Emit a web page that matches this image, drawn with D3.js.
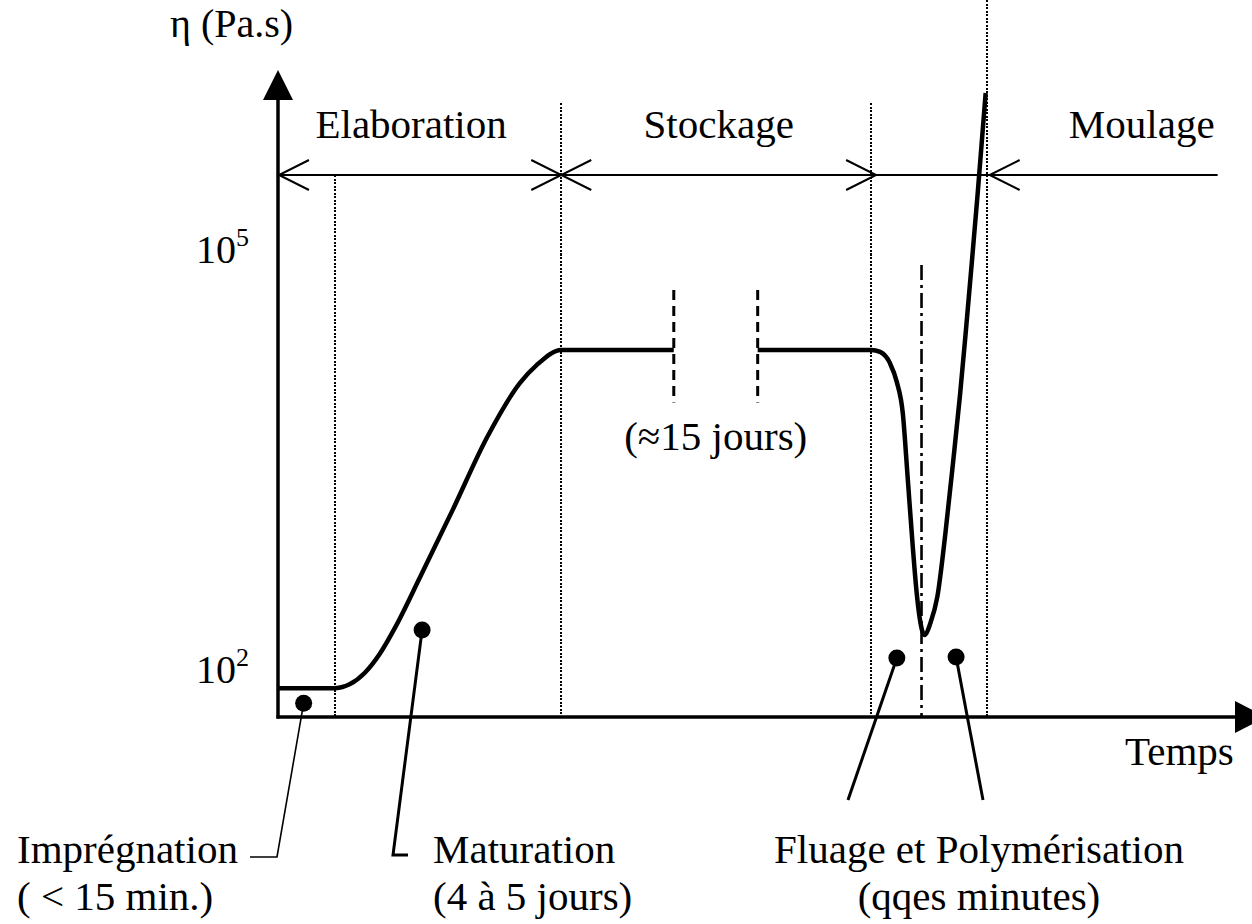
<!DOCTYPE html>
<html>
<head>
<meta charset="utf-8">
<script src="https://cdn.jsdelivr.net/npm/d3@7"></script>
<style>
  body { margin: 0; background: #fff; }
  svg { display: block; }
  text { font-family: "Liberation Serif", "Times New Roman", serif; fill: #000; }
</style>
</head>
<body>
<svg id="chart" width="1252" height="924"></svg>
<script>
// Viscosity of a prepreg through its life cycle (time in arbitrary units, η in Pa.s)

// impregnation + maturation, up to the start of storage
const elaborationTime = [0, 5.8, 7.3, 8.8, 10.3, 11.9, 14.4, 17.7, 21.2, 24.5, 26.2, 28.7, 40.1];
const elaborationEta  = [73, 73, 78, 94, 128, 200, 454, 1370, 4540, 11000, 14800, 19000, 19000];

// end of storage, flow and cure during moulding
const mouldingTime = [48.6, 60.1, 61.0, 62.0, 62.7, 63.3, 63.8, 64.3, 64.7, 65.0, 65.5,
                      66.1, 66.8, 67.6, 68.4, 69.1, 69.7, 70.3, 70.9, 71.7];
const mouldingEta  = [19000, 19000, 18400, 15300, 11200, 6740, 2310, 769, 355, 235, 175,
                      213, 327, 906, 3010, 9060, 26400, 80700, 255000, 1300000];

// y axis tick values
const yTicks = [1e2, 1e5];

// process phases along the time axis
const phaseNames = ["Elaboration", "Stockage", "Moulage"];
const phaseStart = [0.1, 28.7, 72.1];
const phaseEnd   = [28.7, 60.6, 95.2];

// step boundaries (dotted guides)
const stepBounds = [5.8, 28.7, 60.1, 71.8];
// interrupted storage period
const storageBreak = [40.1, 48.6];
// time of the viscosity minimum
const minimumTime = 65.2;

// markers pointing to each step
const markerTime = [2.6, 14.6, 62.7, 68.7];
const markerEta  = [57, 190, 120, 122];

const svg = d3.select("#chart");
const x = d3.scaleLinear().domain([0, 100]).range([278, 1265]);
const y = d3.scaleLog().domain([1e2, 1e5]).range([669, 249]);

const axisY = 717;          // time axis
const phaseY = 175;         // phase arrows
const fontSize = 41;

// ---- dotted step guides
const guideTop = [phaseY, 103, 103, 0];
svg.append("g").attr("shape-rendering", "crispEdges")
  .selectAll("line").data(stepBounds).join("line")
  .attr("x1", d => Math.round(x(d))).attr("x2", d => Math.round(x(d)))
  .attr("y1", (d, i) => guideTop[i]).attr("y2", axisY)
  .attr("stroke", "#000").attr("stroke-width", 2.5)
  .attr("stroke-dasharray", "2 1.5");

// ---- dash-dot line at the viscosity minimum
svg.append("line")
  .attr("x1", x(minimumTime)).attr("x2", x(minimumTime))
  .attr("y1", y(77000)).attr("y2", axisY)
  .attr("stroke", "#000").attr("stroke-width", 2.6)
  .attr("stroke-dasharray", "15 5 3 5");

// ---- storage break (dashed)
svg.append("g").selectAll("line").data(storageBreak).join("line")
  .attr("x1", d => x(d)).attr("x2", d => x(d))
  .attr("y1", y(51000)).attr("y2", y(8000))
  .attr("stroke", "#000").attr("stroke-width", 3)
  .attr("stroke-dasharray", "10 6");

// ---- phase arrows
const phaseG = svg.append("g").attr("stroke", "#000").attr("fill", "none").attr("stroke-width", 2);
phaseG.append("line")
  .attr("x1", x(phaseStart[0])).attr("x2", x(phaseEnd[2]))
  .attr("y1", phaseY).attr("y2", phaseY);
function arrowHead(tipX, dir) {
  // dir = -1 points left, +1 points right
  return `M${tipX - dir * 30},${phaseY - 15}L${tipX},${phaseY}L${tipX - dir * 30},${phaseY + 15}`;
}
phaseNames.forEach((name, i) => {
  phaseG.append("path").attr("d", arrowHead(x(phaseStart[i]), -1));
  if (i < 2) phaseG.append("path").attr("d", arrowHead(x(phaseEnd[i]), 1));
});
svg.append("g").selectAll("text").data(phaseNames).join("text")
  .attr("x", (d, i) => i < 2 ? (x(phaseStart[i]) + x(phaseEnd[i])) / 2 : x(phaseEnd[i]) - 3)
  .attr("dx", (d, i) => i === 0 ? -9 : 0)
  .attr("y", 138)
  .attr("text-anchor", (d, i) => i < 2 ? "middle" : "end")
  .style("font-size", fontSize + "px")
  .text(d => d);

// ---- viscosity curve
const line = d3.line().x(d => x(d[0])).y(d => y(d[1])).curve(d3.curveMonotoneX);
const segments = [
  d3.zip(elaborationTime, elaborationEta),
  d3.zip(mouldingTime, mouldingEta)
];
svg.append("g").selectAll("path").data(segments).join("path")
  .attr("d", line)
  .attr("fill", "none").attr("stroke", "#000")
  .attr("stroke-width", 4.5).attr("stroke-linejoin", "round");

// ---- axes
const axes = svg.append("g");
axes.append("line").attr("x1", x(0)).attr("x2", x(0)).attr("y1", axisY + 1.5).attr("y2", 98)
  .attr("stroke", "#000").attr("stroke-width", 3.5);
axes.append("path").attr("d", `M${x(0)},70L${x(0) + 15},100L${x(0) - 15},100Z`).attr("fill", "#000");
axes.append("line").attr("x1", x(0) - 1.5).attr("x2", 1237).attr("y1", axisY).attr("y2", axisY)
  .attr("stroke", "#000").attr("stroke-width", 3.5);
axes.append("path").attr("d", `M1266,${axisY}L1235,${axisY - 16}L1235,${axisY + 16}Z`).attr("fill", "#000");

const tickText = axes.selectAll("text.tick").data(yTicks).join("text")
  .attr("class", "tick")
  .attr("x", 196).attr("y", d => y(d) + 14)
  .style("font-size", "40px");
tickText.append("tspan").text("10");
tickText.append("tspan").attr("dy", -17).style("font-size", "26px")
  .text(d => Math.round(Math.log10(d)));

svg.append("text").attr("x", 170).attr("y", 37).style("font-size", "40px").text("η (Pa.s)");
svg.append("text").attr("x", 1125).attr("y", 765).style("font-size", fontSize + "px").text("Temps");
svg.append("text").attr("x", (x(storageBreak[0]) + x(storageBreak[1])) / 2).attr("y", 450)
  .attr("text-anchor", "middle").style("font-size", fontSize + "px").text("(≈15 jours)");

// ---- markers and leader lines
const mk = d3.zip(markerTime, markerEta).map(d => [x(d[0]), y(d[1])]);
const leaders = [
  { path: [mk[0], [277, 857], [250, 857]], w: 1.6 },
  { path: [mk[1], [393, 855], [408, 855]], w: 3 },
  { path: [mk[2], [848, 800]], w: 3 },
  { path: [mk[3], [983, 800]], w: 3 }
];
svg.append("g").selectAll("path").data(leaders).join("path")
  .attr("d", d => d3.line()(d.path))
  .attr("fill", "none").attr("stroke", "#000")
  .attr("stroke-width", d => d.w);
svg.append("g").selectAll("circle").data(mk).join("circle")
  .attr("cx", d => d[0]).attr("cy", d => d[1]).attr("r", 8.5).attr("fill", "#000");

// ---- step captions
const captions = [
  { x: 17, anchor: "start", lines: ["Imprégnation", "( < 15 min.)"] },
  { x: 433, anchor: "start", lines: ["Maturation", "(4 à 5 jours)"] },
  { x: 979, anchor: "middle", lines: ["Fluage et Polymérisation", "(qqes minutes)"] }
];
captions.forEach(c => {
  svg.append("g").selectAll("text").data(c.lines).join("text")
    .attr("x", c.x).attr("y", (d, i) => 863 + i * 47)
    .attr("text-anchor", c.anchor)
    .style("font-size", fontSize + "px")
    .text(d => d);
});
</script>
</body>
</html>
